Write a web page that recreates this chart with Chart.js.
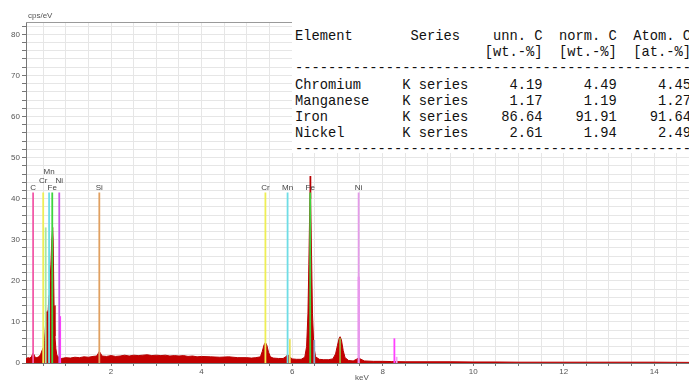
<!DOCTYPE html>
<html>
<head>
<meta charset="utf-8">
<script src="https://cdn.jsdelivr.net/npm/chart.js@4"></script>
<style>
  html, body { margin: 0; padding: 0; background: #fff; }
  #wrap { position: relative; width: 689px; height: 382px; overflow: hidden; }
  #yunit { position: absolute; left: 28px; top: 11px; font: 8px "Liberation Sans", Arial, sans-serif; color: #555; }
  #xunit { position: absolute; left: 355px; top: 373px; font: 8px "Liberation Sans", Arial, sans-serif; color: #555; }
  #table {
    position: absolute; left: 292px; top: 22px; width: 397px; height: 131px;
    margin: 0; padding: 7px 0 0 3px; box-sizing: border-box; background: #fff;
    font: 13.75px/16.2px "Liberation Mono", "Courier New", monospace; color: #111;
    white-space: pre; overflow: hidden;
  }
</style>
</head>
<body>
<div id="wrap">
  <canvas id="spectrum" width="689" height="382"></canvas>
  <div id="yunit">cps/eV</div>
  <div id="xunit">keV</div>
  <pre id="table"></pre>
</div>
<script>
// spectrum (keV, cps/eV)
const specEnergy = [
  0.12, 0.16, 0.20, 0.24, 0.27, 0.29, 0.32, 0.36, 0.40, 0.44, 0.48, 0.51, 0.53, 0.55, 0.57, 0.59,
  0.61, 0.63, 0.65, 0.67, 0.69, 0.71, 0.72, 0.74, 0.76, 0.78, 0.80, 0.83, 0.86, 0.90, 0.95, 1.00,
  1.10, 1.20, 1.30, 1.40, 1.50, 1.60, 1.68, 1.72, 1.74, 1.77, 1.80, 1.90, 2.00, 2.10, 2.20, 2.30,
  2.40, 2.50, 2.60, 2.70, 2.80, 2.90, 3.00, 3.10, 3.20, 3.30, 3.40, 3.50, 3.60, 3.70, 3.80, 3.90,
  4.00, 4.20, 4.40, 4.60, 4.80, 5.00, 5.10, 5.20, 5.30, 5.34, 5.38, 5.41, 5.44, 5.48, 5.52, 5.58,
  5.70, 5.80, 5.86, 5.90, 5.94, 6.00, 6.10, 6.20, 6.28, 6.32, 6.35, 6.37, 6.39, 6.40, 6.41, 6.43,
  6.45, 6.48, 6.52, 6.60, 6.70, 6.80, 6.90, 6.96, 7.00, 7.04, 7.06, 7.09, 7.13, 7.17, 7.25, 7.35,
  7.42, 7.47, 7.52, 7.60, 7.80, 8.00, 8.20, 8.50, 9.00, 9.50, 10.0, 10.5, 11.0, 12.0, 13.0, 14.0, 14.8
];
const specCounts = [
  1.0, 1.3, 1.2, 1.5, 2.3, 2.2, 1.4, 1.3, 1.5, 2.0, 3.2, 3.9, 5.5, 9.0, 12.5, 12.0,
  13.0, 16.5, 19.5, 24.0, 30.0, 33.0, 30.0, 14.0, 6.5, 3.5, 2.0, 1.4, 1.6, 1.1, 1.2, 1.3,
  1.2, 1.4, 1.3, 1.5, 1.4, 1.6, 1.7, 2.4, 2.8, 2.3, 1.7, 1.6, 1.8, 1.6, 1.7, 1.9,
  1.7, 1.9, 1.8, 1.9, 2.0, 1.8, 1.9, 1.8, 1.9, 1.7, 1.8, 1.7, 1.8, 1.6, 1.7, 1.5,
  1.6, 1.5, 1.4, 1.5, 1.3, 1.3, 1.2, 1.3, 1.5, 2.8, 4.4, 5.0, 4.4, 2.6, 1.5, 1.2,
  1.1, 1.1, 1.5, 2.0, 1.6, 1.0, 0.9, 0.9, 1.4, 4.0, 12.0, 24.0, 38.0, 45.5, 40.0, 26.0,
  12.0, 4.0, 1.5, 0.9, 0.8, 0.8, 1.0, 2.2, 4.2, 6.0, 6.4, 5.6, 3.0, 1.3, 0.6, 0.5,
  0.9, 1.3, 0.9, 0.5, 0.4, 0.4, 0.35, 0.3, 0.3, 0.3, 0.25, 0.25, 0.2, 0.2, 0.2, 0.2, 0.15
];

// element marker lines
const lineElement = ['C', 'Cr', 'Mn', 'Fe', 'Ni', 'Si', 'Cr', 'Mn', 'Fe', 'Ni',
                     'Cr', 'Ni', 'Cr', 'Mn', 'Fe', 'Ni', 'Ni', 'Ni'];
const lineEnergy  = [0.277, 0.50, 0.63, 0.70, 0.855, 1.74, 5.41, 5.90, 6.40, 7.47,
                     0.555, 0.875, 5.95, 6.49, 7.06, 7.47, 8.26, 8.31];
const lineTop     = [41.5, 41.5, 41.5, 41.5, 41.5, 41.5, 41.5, 41.5, 41.5, 41.5,
                     33.0, 11.4, 5.8, 5.6, 6.0, 21.0, 6.0, 1.5];

// labels above the marker lines
const labelText   = ['C', 'Cr', 'Mn', 'Fe', 'Ni', 'Si', 'Cr', 'Mn', 'Fe', 'Ni'];
const labelEnergy = [0.277, 0.50, 0.63, 0.70, 0.855, 1.74, 5.41, 5.90, 6.40, 7.47];
const labelTop    = 41.5;

// quantification table
const tableElement = ['Chromium', 'Manganese', 'Iron', 'Nickel'];
const tableSeries  = ['K series', 'K series', 'K series', 'K series'];
const unnC  = ['4.19', '1.17', '86.64', '2.61'];
const normC = ['4.49', '1.19', '91.91', '1.94'];
const atomC = ['4.45', '1.27', '91.64', '2.49'];

// styles
const lineColors = ['#f25aa8', '#eeee55', '#6fdde6', '#3fd43f', '#c857e0', '#e0a060',
                    '#eeee55', '#6fdde6', '#3fd43f', '#e39be9',
                    '#a8e8a0', '#ff40ff', '#e8e060', '#8aa8c8', '#9ab040', '#ff45ff', '#ff40ff', '#f0a0f0'];
const labelLift = [5, 12, 21, 5, 12, 5, 5, 5, 5, 5];

// table text
const rows = [];
rows.push('Element'.padEnd(14) + 'Series'.padEnd(10) + 'unn. C'.padStart(6) + 'norm. C'.padStart(9) + 'Atom. C'.padStart(9));
rows.push(''.padEnd(23) + '[wt.-%]' + '[wt.-%]'.padStart(9) + '[at.-%]'.padStart(9));
rows.push('-'.repeat(52));
for (let i = 0; i < tableElement.length; i++) {
  rows.push(tableElement[i].padEnd(13) + tableSeries[i] + unnC[i].padStart(9) + normC[i].padStart(9) + atomC[i].padStart(9));
}
rows.push('-'.repeat(52));
document.getElementById('table').textContent = rows.join('\n');

const datasets = [];
for (let i = 0; i < lineEnergy.length; i++) {
  datasets.push({
    data: [{ x: lineEnergy[i], y: 0 }, { x: lineEnergy[i], y: lineTop[i] }],
    borderColor: lineColors[i],
    borderWidth: 1.8,
    pointRadius: 0,
    fill: false,
    order: 0,
  });
}
datasets.push({
  data: specEnergy.map((e, i) => ({ x: e, y: specCounts[i] })),
  borderColor: '#b80000',
  backgroundColor: '#c30000',
  borderWidth: 1,
  pointRadius: 0,
  fill: 'origin',
  tension: 0,
  order: 1,
});

const extras = {
  id: 'extras',
  afterDatasetsDraw(chart) {
    const { ctx, chartArea, scales } = chart;
    ctx.save();
    ctx.strokeStyle = '#9a9a9a';
    ctx.lineWidth = 1;
    ctx.beginPath();
    ctx.moveTo(chartArea.left, chartArea.top + 0.5);
    ctx.lineTo(chartArea.right, chartArea.top + 0.5);
    ctx.stroke();
    ctx.font = '8px "Liberation Sans", Arial, sans-serif';
    ctx.fillStyle = '#444';
    ctx.textAlign = 'center';
    ctx.textBaseline = 'middle';
    const yTop = scales.y.getPixelForValue(labelTop);
    for (let i = 0; i < labelText.length; i++) {
      ctx.fillText(labelText[i], scales.x.getPixelForValue(labelEnergy[i]), yTop - labelLift[i]);
    }
    ctx.restore();
  },
};

new Chart(document.getElementById('spectrum'), {
  type: 'line',
  data: { datasets },
  options: {
    responsive: false,
    devicePixelRatio: 1,
    animation: false,
    layout: { padding: { top: 22, right: 0, left: 0, bottom: 0 } },
    plugins: { legend: { display: false }, tooltip: { enabled: false } },
    scales: {
      x: {
        type: 'linear',
        min: 0.12,
        max: 14.77,
        afterFit: (s) => { s.height = 19; },
        ticks: {
          stepSize: 0.5,
          includeBounds: false,
          autoSkip: false,
          maxRotation: 0,
          padding: 1,
          color: '#555',
          font: { family: 'Liberation Sans', size: 8 },
          callback: (v) => {
            const r = Math.round(v);
            return Math.abs(v - r) < 1e-6 && r % 2 === 0 ? String(r) : '';
          },
        },
        grid: { color: '#e6e6e6', tickColor: '#777', tickLength: 3 },
        border: { color: '#777' },
      },
      y: {
        min: 0,
        max: 83,
        afterFit: (s) => { s.width = 26; },
        ticks: {
          stepSize: 2,
          includeBounds: false,
          autoSkip: false,
          padding: 2,
          color: '#555',
          font: { family: 'Liberation Sans', size: 8 },
          callback: (v) => (v % 10 === 0 ? String(v) : ''),
        },
        grid: { color: '#e6e6e6', tickColor: '#777', tickLength: 4 },
        border: { color: '#777' },
      },
    },
  },
  plugins: [extras],
});
</script>
</body>
</html>
